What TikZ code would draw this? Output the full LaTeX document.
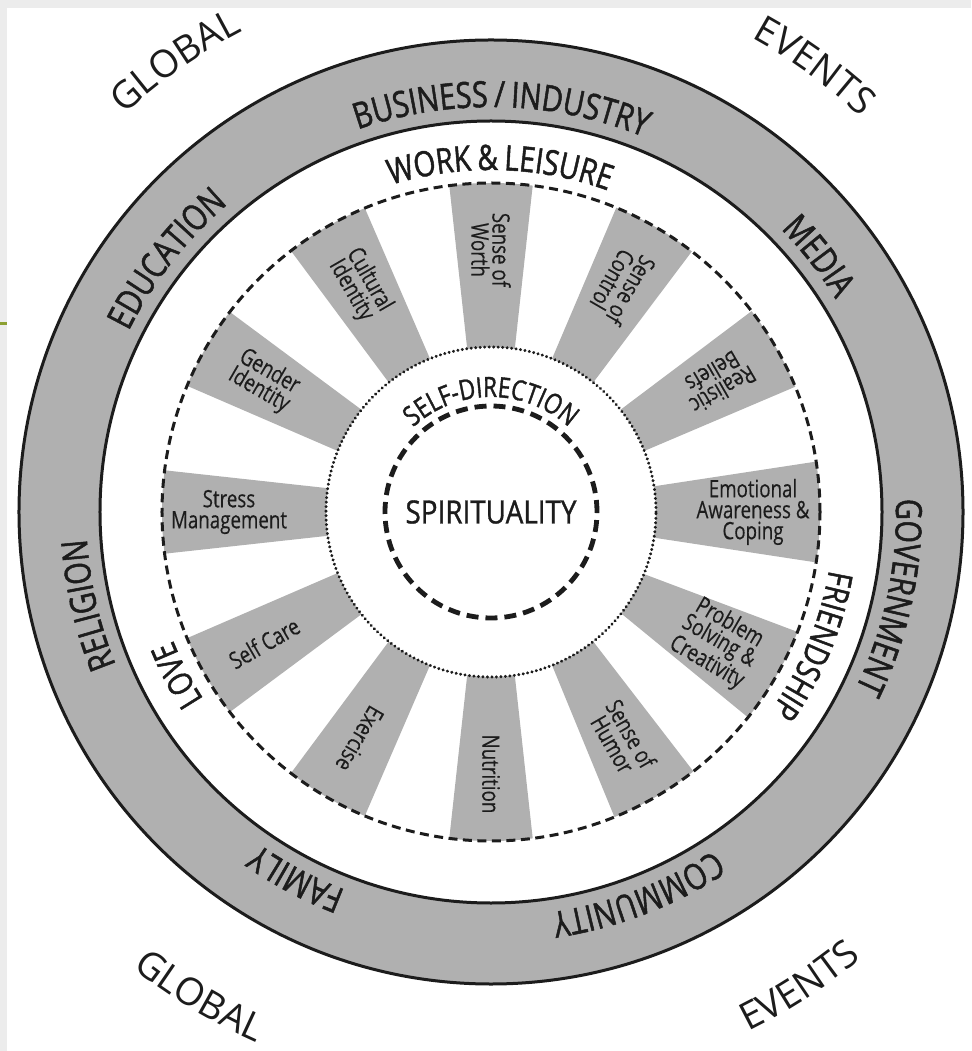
\documentclass[tikz,border=0pt]{standalone}
\usepackage{fontspec}
\setmainfont{Open Sans}
\newfontfamily\ringfont[FakeStretch=0.8,FakeBold=1.4]{Open Sans}
\newfontfamily\condfont[FakeStretch=0.87,FakeBold=1.0]{Open Sans}
\newfontfamily\spokefont[FakeStretch=0.78,FakeBold=0.3]{Open Sans}
\usetikzlibrary{decorations.text}
\definecolor{ringgray}{RGB}{176,176,176}
\definecolor{ink}{RGB}{28,28,28}
\definecolor{stripgray}{RGB}{236,236,236}
\definecolor{olive}{RGB}{140,160,50}
\begin{document}
\begin{tikzpicture}[x=1pt,y=1pt,
  spokelabel/.style={font=\spokefont\fontsize{24}{21}\selectfont, text=ink, align=center, inner sep=0pt},
  spokefill/.style={fill=ringgray},
  ringline/.style={draw=ink, line width=3pt},
  arclabel/.style={decorate, decoration={text along path, text align=center, text={#1}}},
]
\useasboundingbox (-491,-539) rectangle (480,512);
% page strips
\fill[stripgray] (-491,504) rectangle (480,512);
\fill[stripgray] (-491,-539) rectangle (-484,512);
\draw[olive, line width=3pt] (-491,188) -- (-484,188);
% outer ring
\fill[ringgray, even odd rule] (0,0) circle[radius=472] (0,0) circle[radius=391];
\draw[ringline] (0,0) circle[radius=472];
\draw[ringline] (0,0) circle[radius=391];
% spokes
\begin{scope}
\clip (0,0) circle[radius=329];
\foreach \a/\wi/\wo in {90/24/42,60/24/44,30/24/44,0/26/51,-30/23/50,-60/24/46,-90/24/42,-120/24/43,-150/24/43,180/24/42,150/24/43,120/24/43}{
  \fill[spokefill, rotate=\a] (150,{-\wi+(\wo-\wi)*15/164}) -- (350,{-\wo-(\wo-\wi)*21/164}) -- (350,{\wo+(\wo-\wi)*21/164}) -- (150,{\wi-(\wo-\wi)*15/164}) -- cycle;
}
\end{scope}
\fill[white] (0,0) circle[radius=165];
% circles
\draw[ink, line width=3pt, dash pattern=on 9pt off 5.5pt] (0,0) circle[radius=329];
\draw[ink, line width=3.2pt, line cap=round, dash pattern=on 0.1pt off 4.4pt] (0,0) circle[radius=165];
\draw[ink, line width=4.8pt, dash pattern=on 12pt off 7pt] (0,0) circle[radius=106];
% centre
\node[font=\condfont\fontsize{32}{32}\selectfont, text=ink] (spirit) at (0,0) {SPIRITUALITY};
\path[arclabel={|\ringfont\fontsize{28}{28}\selectfont\color{ink}|SELF-DIRECTION}] (160:115) arc[start angle=160, end angle=20, radius=115];
% ring labels
\path[arclabel={|\ringfont\fontsize{36}{36}\selectfont\color{ink}|BUSINESS{\,/\,}INDUSTRY}] (125:405) arc[start angle=125, end angle=52, radius=405];
\path[arclabel={|\ringfont\fontsize{36}{36}\selectfont\color{ink}|EDUCATION}] (172:405) arc[start angle=172, end angle=112, radius=405];
\path[arclabel={|\ringfont\fontsize{36}{36}\selectfont\color{ink}|MEDIA}] (68:405) arc[start angle=68, end angle=8, radius=405];
\path[arclabel={|\ringfont\fontsize{36}{36}\selectfont\color{ink}|GOVERNMENT}] (20:405) arc[start angle=20, end angle=-44, radius=405];
\path[arclabel={|\ringfont\fontsize{36}{36}\selectfont\color{ink}|COMMUNITY}] (-36:405) arc[start angle=-36, end angle=-102, radius=405];
\path[arclabel={|\ringfont\fontsize{36}{36}\selectfont\color{ink}|FAMILY}] (-88:405) arc[start angle=-88, end angle=-148, radius=405];
\path[arclabel={|\ringfont\fontsize{36}{36}\selectfont\color{ink}|RELIGION}] (-137:405) arc[start angle=-137, end angle=-197, radius=405];
% inner labels
\path[arclabel={|\ringfont\fontsize{35}{35}\selectfont\color{ink}|WORK{\,\&\,}LEISURE}] (125:342) arc[start angle=125, end angle=52, radius=342];
\path[arclabel={|\ringfont\fontsize{34}{34}\selectfont\color{ink}|FRIENDSHIP}] (12:343) arc[start angle=12, end angle=-57, radius=343];
\path[arclabel={|\ringfont\fontsize{34}{34}\selectfont\color{ink}|LOVE}] (-132:343) arc[start angle=-132, end angle=-173, radius=343];
% global events
\path[arclabel={|\fontsize{38}{38}\selectfont\color{ink}|GLOBAL}] (150:541) arc[start angle=150, end angle=100, radius=541];
\path[arclabel={|\fontsize{38}{38}\selectfont\color{ink}|EVENTS}] (80:541) arc[start angle=80, end angle=28, radius=541];
\path[arclabel={|\fontsize{38}{38}\selectfont\color{ink}|GLOBAL}] (214:580) arc[start angle=214, end angle=264, radius=580];
\path[arclabel={|\fontsize{38}{38}\selectfont\color{ink}|EVENTS}] (278:580) arc[start angle=278, end angle=328, radius=580];
% spoke labels
\node[spokelabel, rotate=-90] (worth) at (90:262) {Sense of\\Worth};
\node[spokelabel, rotate=-120] (control) at (60:262) {Sense of\\Control};
\node[spokelabel, rotate=-150] (beliefs) at (30:262) {Realistic\\Beliefs};
\node[spokelabel, rotate=0] (emotional) at (0:262) {Emotional\\Awareness \&\\Coping};
\node[spokelabel, rotate=-30] (problem) at (-30:262) {Problem\\Solving \&\\Creativity};
\node[spokelabel, rotate=-60] (humor) at (-60:262) {Sense of\\Humor};
\node[spokelabel, rotate=-90] (nutrition) at (-90:262) {Nutrition};
\node[spokelabel, rotate=-120] (exercise) at (-120:262) {Exercise};
\node[spokelabel, rotate=30] (selfcare) at (-150:262) {Self Care};
\node[spokelabel, rotate=0] (stress) at (180:262) {Stress\\Management};
\node[spokelabel, rotate=-30] (gender) at (150:262) {Gender\\Identity};
\node[spokelabel, rotate=-60] (cultural) at (120:262) {Cultural\\Identity};
\end{tikzpicture}
\end{document}
